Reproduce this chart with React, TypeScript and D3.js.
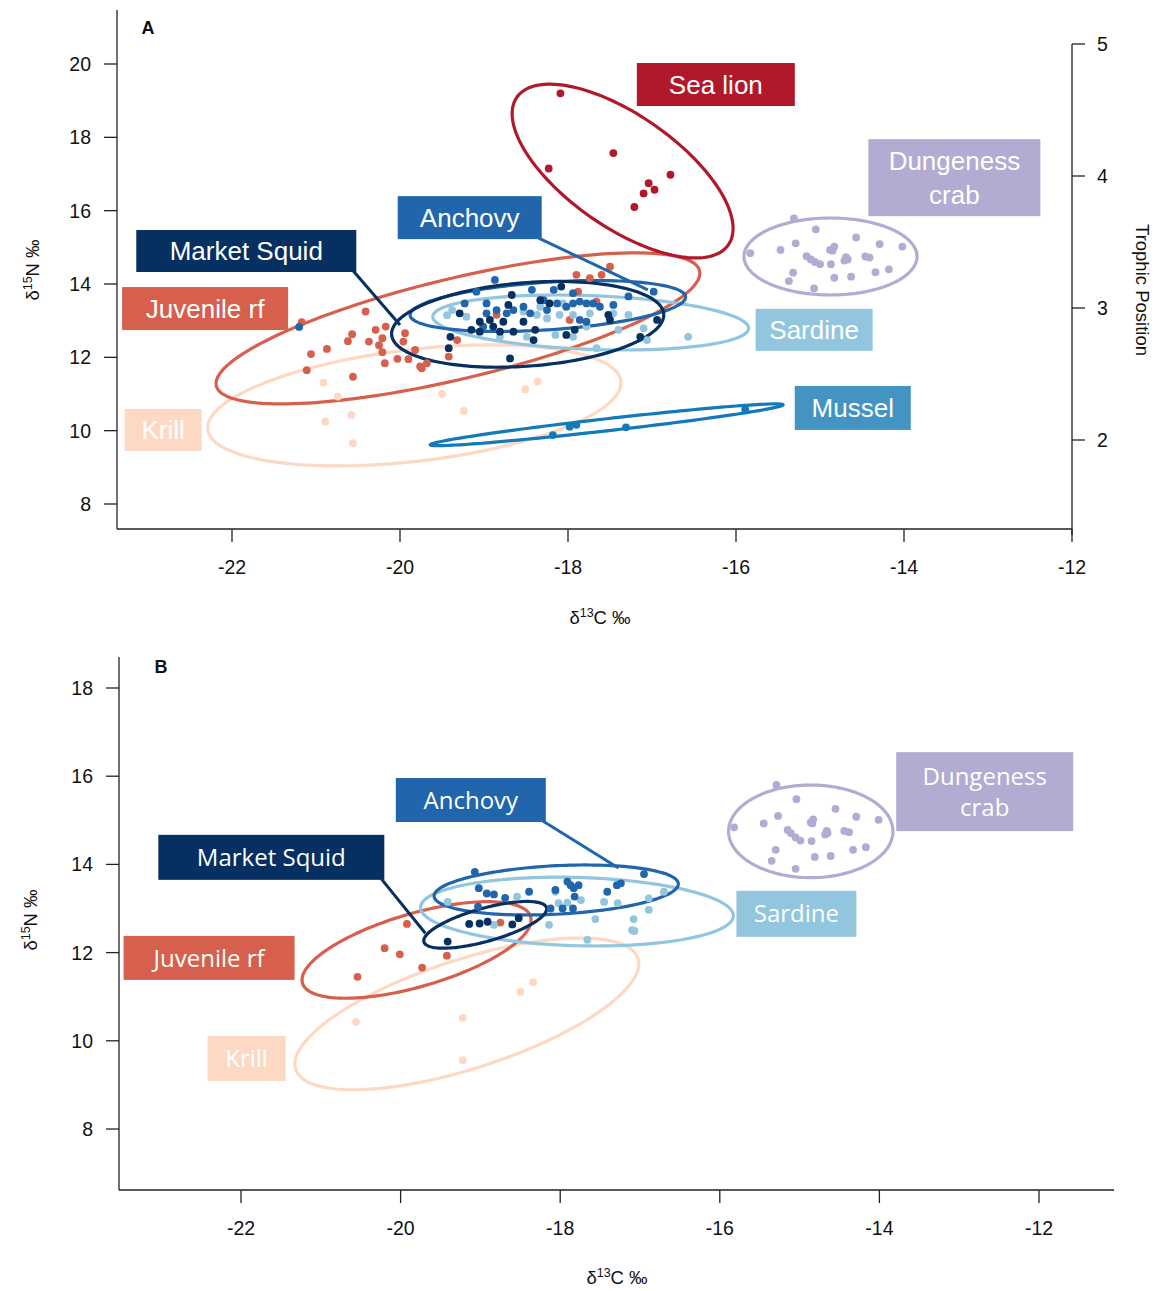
import React from "react";
import { scaleLinear, line, curveLinearClosed, range } from "d3";

type Pt = [number, number];
type Ell = { cx: number; cy: number; sdx: number; sdy: number; rho: number };

// ---------- Panel A data (d13C, d15N) ----------
const seaLionA: Pt[] = [
  [-18.09, 19.2], [-18.23, 17.15], [-17.46, 17.57], [-16.78, 16.98],
  [-17.04, 16.75], [-16.97, 16.57], [-17.1, 16.47], [-17.21, 16.1],
];
const crabA: Pt[] = [
  [-15.31, 15.79], [-15.05, 15.49], [-15.83, 14.84], [-15.47, 14.93], [-15.29, 15.11],
  [-14.57, 15.27], [-14.29, 15.09], [-14.02, 15.02], [-14.88, 14.93], [-14.83, 15.02],
  [-14.85, 14.91], [-15.16, 14.76], [-15.11, 14.67], [-15.06, 14.6], [-15.0, 14.54],
  [-14.87, 14.54], [-14.69, 14.73], [-14.71, 14.64], [-14.67, 14.67], [-14.46, 14.75],
  [-14.41, 14.72], [-15.32, 14.31], [-15.37, 14.08], [-15.07, 13.88], [-14.83, 14.17],
  [-14.63, 14.2], [-14.34, 14.32], [-14.18, 14.4],
];
const krillA: Pt[] = [
  [-20.91, 11.31], [-20.89, 10.25], [-20.58, 10.43], [-20.56, 9.66], [-19.5, 11.0],
  [-19.24, 10.54], [-18.51, 11.13], [-18.36, 11.34], [-20.74, 10.93],
];
const musselA: Pt[] = [
  [-18.18, 9.88], [-17.98, 10.11], [-17.9, 10.16], [-17.31, 10.09], [-15.89, 10.58],
];
const juvenileA: Pt[] = [
  [-20.41, 13.25], [-21.17, 12.96], [-20.57, 12.63], [-20.62, 12.44], [-20.29, 12.75],
  [-20.17, 12.84], [-20.37, 12.43], [-20.25, 12.33], [-20.21, 12.52], [-19.94, 12.66],
  [-20.21, 12.14], [-21.06, 12.09], [-20.87, 12.23], [-20.18, 11.84], [-20.03, 11.96],
  [-19.9, 11.95], [-20.56, 11.47], [-21.11, 11.65], [-19.74, 11.7], [-17.9, 14.25],
  [-17.74, 14.16], [-17.6, 14.25], [-17.5, 14.47], [-17.88, 13.79], [-17.66, 13.52],
  [-19.96, 12.43], [-19.82, 12.2], [-19.76, 11.75], [-19.68, 11.84], [-19.42, 12.02],
  [-19.32, 12.47], [-18.85, 13.16], [-17.98, 13.02],
];
const sardineA: Pt[] = [
  [-19.44, 13.15], [-19.38, 13.29], [-19.21, 13.11], [-18.53, 13.25], [-18.37, 13.16],
  [-18.25, 13.06], [-18.1, 13.16], [-17.94, 13.16], [-17.74, 13.2], [-17.46, 13.2],
  [-17.28, 13.16], [-17.4, 12.75], [-17.1, 12.79], [-17.06, 12.47], [-16.57, 12.56],
  [-17.66, 12.25], [-18.15, 12.61], [-17.94, 12.56], [-18.81, 12.56], [-18.49, 12.56],
  [-17.78, 12.84], [-18.33, 13.38], [-18.06, 13.47],
];
const anchovyA: Pt[] = [
  [-18.87, 14.11], [-19.09, 13.79], [-19.23, 13.47], [-18.97, 13.47], [-18.97, 13.2],
  [-18.85, 13.29], [-18.65, 13.29], [-18.53, 13.38], [-18.43, 13.84], [-18.29, 13.56],
  [-18.17, 13.84], [-18.13, 13.47], [-18.02, 13.38], [-17.94, 13.75], [-17.86, 13.52],
  [-17.78, 13.47], [-17.7, 13.47], [-17.62, 13.38], [-17.46, 13.43], [-17.28, 13.66],
  [-16.98, 13.79], [-17.78, 12.97], [-17.86, 13.02], [-18.25, 13.29], [-19.01, 12.84],
  [-17.94, 13.47], [-18.45, 13.2], [-18.73, 13.2], [-21.2, 12.83],
];
const squidA: Pt[] = [
  [-19.29, 13.2], [-19.05, 12.97], [-18.93, 13.02], [-18.77, 12.97], [-18.89, 12.84],
  [-18.67, 13.7], [-18.71, 13.43], [-18.53, 12.97], [-18.39, 12.75], [-18.41, 12.47],
  [-18.65, 12.7], [-18.81, 12.7], [-19.05, 12.7], [-19.15, 12.75], [-19.4, 12.56],
  [-19.42, 12.25], [-18.08, 13.93], [-18.02, 12.61], [-17.92, 12.75], [-17.52, 13.16],
  [-17.5, 13.02], [-17.14, 12.56], [-16.94, 13.02], [-18.69, 11.97], [-18.22, 13.47],
  [-18.33, 13.56],
];

// standard ellipses: centre, SD of each axis, correlation
const ellipsesA: Record<string, Ell> = {
  krill: { cx: -19.83, cy: 10.69, sdx: 2.46, sdy: 1.65, rho: 0.37 },
  mussel: { cx: -17.54, cy: 10.16, sdx: 2.1, sdy: 0.57, rho: 0.957 },
  juvenile: { cx: -19.31, cy: 12.79, sdx: 2.88, sdy: 2.06, rho: 0.73 },
  sardine: { cx: -17.73, cy: 12.95, sdx: 1.88, sdy: 0.75, rho: -0.21 },
  anchovy: { cx: -18.24, cy: 13.4, sdx: 1.64, sdy: 0.695, rho: 0.35 },
  squid: { cx: -18.48, cy: 12.9, sdx: 1.62, sdy: 1.17, rho: 0.22 },
  seaLion: { cx: -17.35, cy: 17.08, sdx: 1.315, sdy: 2.37, rho: -0.66 },
  crab: { cx: -14.875, cy: 14.75, sdx: 1.03, sdy: 1.05, rho: 0 },
};

// ---------- Panel B data ----------
const crabB: Pt[] = [
  [-15.29, 15.8], [-15.04, 15.48], [-15.82, 14.84], [-15.45, 14.93], [-15.27, 15.1],
  [-14.55, 15.26], [-14.29, 15.08], [-14.01, 15.01], [-14.86, 14.95], [-14.83, 15.02],
  [-14.84, 14.93], [-15.15, 14.78], [-15.11, 14.71], [-15.05, 14.61], [-14.99, 14.54],
  [-14.85, 14.53], [-14.66, 14.76], [-14.68, 14.68], [-14.65, 14.71], [-14.44, 14.76],
  [-14.38, 14.73], [-15.3, 14.33], [-15.35, 14.08], [-15.05, 13.9], [-14.81, 14.17],
  [-14.61, 14.19], [-14.33, 14.33], [-14.17, 14.39],
];
const krillB: Pt[] = [
  [-20.56, 10.43], [-19.22, 10.52], [-19.22, 9.56], [-18.5, 11.11], [-18.34, 11.33],
];
const juvenileB: Pt[] = [
  [-19.92, 12.65], [-20.2, 12.1], [-20.01, 11.96], [-19.73, 11.66], [-20.54, 11.45],
  [-19.42, 11.93], [-18.75, 12.68],
];
const sardineB: Pt[] = [
  [-18.83, 12.63], [-18.54, 13.27], [-18.06, 13.38], [-18.02, 13.12], [-17.91, 13.13],
  [-17.74, 13.19], [-18.14, 12.63], [-17.56, 12.76], [-17.45, 13.15], [-17.28, 13.12],
  [-17.08, 12.76], [-17.1, 12.51], [-17.07, 12.49], [-16.89, 13.23], [-16.89, 12.97],
  [-16.7, 13.38], [-17.66, 12.29], [-19.41, 13.15],
];
const anchovyB: Pt[] = [
  [-19.07, 13.83], [-19.02, 13.46], [-18.92, 13.34], [-18.83, 13.32], [-18.69, 13.24],
  [-18.39, 13.38], [-18.06, 13.42], [-17.91, 13.61], [-17.87, 13.53], [-17.83, 13.46],
  [-17.77, 13.53], [-17.82, 13.27], [-17.84, 13.0], [-17.97, 13.0], [-18.12, 13.0],
  [-17.41, 13.38], [-17.29, 13.53], [-17.24, 13.57], [-16.95, 13.78], [-19.03, 13.04],
];
const squidB: Pt[] = [
  [-19.14, 12.65], [-19.01, 12.66], [-18.91, 12.7], [-18.6, 12.64], [-18.52, 12.78],
  [-19.41, 12.25],
];

const ellipsesB: Record<string, Ell> = {
  krill: { cx: -19.17, cy: 10.61, sdx: 2.155, sdy: 1.72, rho: 0.66 },
  juvenile: { cx: -19.8, cy: 12.06, sdx: 1.435, sdy: 1.095, rho: 0.62 },
  sardine: { cx: -17.79, cy: 12.93, sdx: 1.96, sdy: 0.78, rho: -0.12 },
  anchovy: { cx: -18.05, cy: 13.42, sdx: 1.53, sdy: 0.567, rho: 0.24 },
  squid: { cx: -18.94, cy: 12.63, sdx: 0.77, sdy: 0.53, rho: 0.68 },
  crab: { cx: -14.86, cy: 14.75, sdx: 1.03, sdy: 1.05, rho: 0 },
};

// ticks
const xTicks = [-22, -20, -18, -16, -14, -12];
const yTicksA = [8, 10, 12, 14, 16, 18, 20];
const yTicksB = [8, 10, 12, 14, 16, 18];
const tpTicks = [2, 3, 4, 5];

// ---------- styles ----------
const COLORS: Record<string, { line: string; box: string }> = {
  krill: { line: "#fdd9c4", box: "#fdd9c4" },
  mussel: { line: "#1479b8", box: "#4393c3" },
  juvenile: { line: "#d6604d", box: "#d6604d" },
  sardine: { line: "#92c5de", box: "#92c5de" },
  anchovy: { line: "#2166ac", box: "#2166ac" },
  squid: { line: "#053061", box: "#053061" },
  seaLion: { line: "#b2182b", box: "#b2182b" },
  crab: { line: "#b2abd2", box: "#b2abd2" },
};

const ORDER = ["krill", "mussel", "juvenile", "sardine", "anchovy", "squid", "seaLion", "crab"];

type Label = { key: string; text: string[]; x: number; y: number; w: number; h: number; leader?: Pt };

const panels = [
  {
    letter: "A",
    letterPos: [148, 28],
    xDomain: [-22, -12], xRange: [232, 1072],
    yDomain: [8, 20], yRange: [504, 64],
    frame: { left: 117, right: 1072, top: 10, bottom: 529 },
    yTicks: yTicksA,
    trophic: { domain: [2, 5], range: [440, 44] },
    yTitle: [32, 270], xTitle: [600, 617],
    labelFont: "'Liberation Sans', Arial, sans-serif", labelSize: 26,
    groups: {
      krill: krillA, mussel: musselA, juvenile: juvenileA, sardine: sardineA,
      anchovy: anchovyA, squid: squidA, seaLion: seaLionA, crab: crabA,
    } as Record<string, Pt[]>,
    ellipses: ellipsesA,
    labels: [
      { key: "seaLion", text: ["Sea lion"], x: -16.24, y: 19.44, w: 158, h: 43 },
      { key: "crab", text: ["Dungeness", "crab"], x: -13.4, y: 16.9, w: 172, h: 77 },
      { key: "anchovy", text: ["Anchovy"], x: -19.17, y: 15.81, w: 144, h: 43, leader: [-17.05, 13.84] },
      { key: "squid", text: ["Market Squid"], x: -21.83, y: 14.9, w: 220, h: 42, leader: [-20.0, 12.88] },
      { key: "juvenile", text: ["Juvenile rf"], x: -22.32, y: 13.33, w: 166, h: 43 },
      { key: "sardine", text: ["Sardine"], x: -15.07, y: 12.75, w: 117, h: 42 },
      { key: "mussel", text: ["Mussel"], x: -14.61, y: 10.62, w: 116, h: 44 },
      { key: "krill", text: ["Krill"], x: -22.82, y: 10.02, w: 77, h: 42 },
    ] as Label[],
  },
  {
    letter: "B",
    letterPos: [161, 667],
    xDomain: [-22, -12], xRange: [241, 1039],
    yDomain: [8, 18], yRange: [1129, 688],
    frame: { left: 119, right: 1114, top: 657, bottom: 1190 },
    yTicks: yTicksB,
    trophic: null,
    yTitle: [30, 920], xTitle: [617, 1277],
    labelFont: "'Open Sans', 'Noto Sans', sans-serif", labelSize: 24,
    groups: {
      krill: krillB, juvenile: juvenileB, sardine: sardineB,
      anchovy: anchovyB, squid: squidB, crab: crabB,
    } as Record<string, Pt[]>,
    ellipses: ellipsesB,
    labels: [
      { key: "crab", text: ["Dungeness", "crab"], x: -12.68, y: 15.65, w: 177, h: 79 },
      { key: "anchovy", text: ["Anchovy"], x: -19.12, y: 15.46, w: 150, h: 44, leader: [-17.27, 13.92] },
      { key: "squid", text: ["Market Squid"], x: -21.62, y: 14.16, w: 226, h: 45, leader: [-19.69, 12.44] },
      { key: "juvenile", text: ["Juvenile rf"], x: -22.4, y: 11.88, w: 171, h: 44 },
      { key: "sardine", text: ["Sardine"], x: -15.04, y: 12.88, w: 120, h: 46 },
      { key: "krill", text: ["Krill"], x: -21.93, y: 9.6, w: 78, h: 45 },
    ] as Label[],
  },
];

const AXIS_FONT = "'Liberation Sans', Arial, sans-serif";

function ellipsePoints(e: Ell, n = 160): Pt[] {
  const k = Math.sqrt(1 - e.rho * e.rho);
  return range(n).map((i) => {
    const t = (2 * Math.PI * i) / n;
    return [e.cx + e.sdx * Math.cos(t), e.cy + e.sdy * (e.rho * Math.cos(t) + k * Math.sin(t))] as Pt;
  });
}

function Panel({ p }: { p: (typeof panels)[number] }) {
  const x = scaleLinear().domain(p.xDomain).range(p.xRange);
  const y = scaleLinear().domain(p.yDomain).range(p.yRange);
  const path = line<Pt>()
    .x((d) => x(d[0]))
    .y((d) => y(d[1]))
    .curve(curveLinearClosed);
  const f = p.frame;
  const keys = ORDER.filter((k) => p.groups[k]);
  const tp = p.trophic ? scaleLinear().domain(p.trophic.domain).range(p.trophic.range) : null;

  return (
    <g>
      {/* axes */}
      <g stroke="#222" strokeWidth={1.3} fill="none">
        <line x1={f.left} x2={f.left} y1={f.top} y2={f.bottom} />
        <line x1={f.left} x2={f.right} y1={f.bottom} y2={f.bottom} />
        {p.yTicks.map((t) => (
          <line key={t} x1={f.left - 13} x2={f.left} y1={y(t)} y2={y(t)} />
        ))}
        {xTicks.map((t) => (
          <line key={t} x1={x(t)} x2={x(t)} y1={f.bottom} y2={f.bottom + 13} />
        ))}
        {tp && (
          <>
            <line x1={f.right} x2={f.right} y1={tp(5)} y2={f.bottom + 6} />
            {tpTicks.map((t) => (
              <line key={t} x1={f.right} x2={f.right + 13} y1={tp(t)} y2={tp(t)} />
            ))}
          </>
        )}
      </g>
      <g fontFamily={AXIS_FONT} fontSize={19.5} fill="#111">
        {p.yTicks.map((t) => (
          <text key={t} x={f.left - 26} y={y(t)} dy="0.36em" textAnchor="end">{t}</text>
        ))}
        {xTicks.map((t) => (
          <text key={t} x={x(t)} y={f.bottom + 38} dy="0.36em" textAnchor="middle">{t}</text>
        ))}
        {tp && tpTicks.map((t) => (
          <text key={t} x={f.right + 25} y={tp(t)} dy="0.36em">{t}</text>
        ))}
        <text x={p.xTitle[0]} y={p.xTitle[1]} dy="0.36em" textAnchor="middle" fontSize={18.5}>
          δ<tspan fontSize={12.5} dy="-7">13</tspan><tspan dy="7">C ‰</tspan>
        </text>
        <text transform={`translate(${p.yTitle[0]},${p.yTitle[1]}) rotate(-90)`} dy="0.36em" textAnchor="middle" fontSize={18.5}>
          δ<tspan fontSize={12.5} dy="-7">15</tspan><tspan dy="7">N ‰</tspan>
        </text>
        {tp && (
          <text transform={`translate(1143,290) rotate(90)`} dy="0.36em" textAnchor="middle" fontSize={18.5}>
            Trophic Position
          </text>
        )}
        <text x={p.letterPos[0]} y={p.letterPos[1]} dy="0.36em" textAnchor="middle" fontWeight="bold" fontSize={18}>
          {p.letter}
        </text>
      </g>

      {/* ellipses */}
      {keys.map((k) =>
        p.ellipses[k] ? (
          <path key={k} d={path(ellipsePoints(p.ellipses[k])) ?? ""} fill="none" stroke={COLORS[k].line} strokeWidth={3.2} />
        ) : null,
      )}
      {/* points */}
      {keys.map((k) => (
        <g key={k} fill={COLORS[k].line}>
          {p.groups[k].map((d, i) => (
            <circle key={i} cx={x(d[0])} cy={y(d[1])} r={3.9} />
          ))}
        </g>
      ))}

      {/* labels + leaders */}
      {p.labels.map((l) => {
        const bx = x(l.x) - l.w / 2;
        const by = y(l.y) - l.h / 2;
        const lh = p.labelSize * 1.28;
        return (
          <g key={l.key}>
            {l.leader && (
              <line
                x1={bx + l.w - 3}
                y1={by + l.h - 1}
                x2={x(l.leader[0])}
                y2={y(l.leader[1])}
                stroke={COLORS[l.key].line}
                strokeWidth={3}
              />
            )}
            <rect x={bx} y={by} width={l.w} height={l.h} fill={COLORS[l.key].box} />
            {l.text.map((s, i) => (
              <text
                key={i}
                x={bx + l.w / 2}
                y={by + l.h / 2 + (i - (l.text.length - 1) / 2) * lh}
                dy="0.36em"
                textAnchor="middle"
                fill="#fff"
                fontFamily={p.labelFont}
                fontSize={p.labelSize}
              >
                {s}
              </text>
            ))}
          </g>
        );
      })}
    </g>
  );
}

export default function App() {
  return (
    <svg
      width={1158}
      height={1291}
      viewBox="0 0 1158 1291"
      style={{ position: "absolute", left: 0, top: 0, background: "#fff" }}
    >
      {panels.map((p) => (
        <Panel key={p.letter} p={p} />
      ))}
    </svg>
  );
}
